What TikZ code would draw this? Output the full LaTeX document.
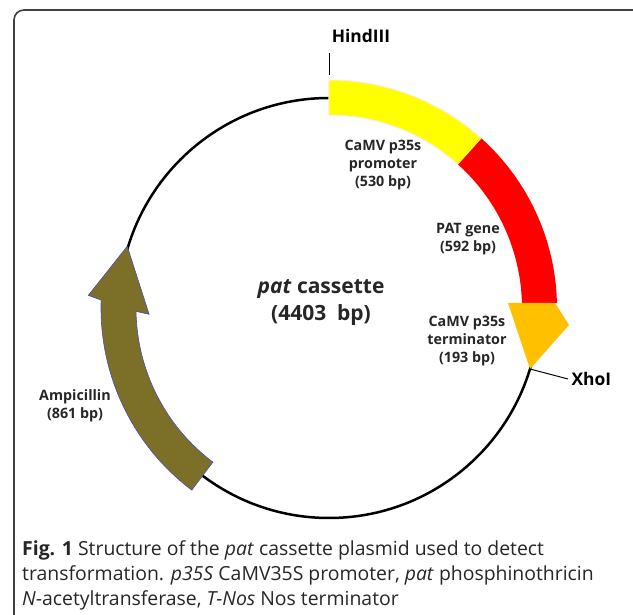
\documentclass[tikz,border=0pt]{standalone}
\usepackage{fontspec}
\setmainfont{Open Sans}
\newfontfamily\labelfont{Open Sans}
\usepackage{tikz}
\definecolor{promyellow}{RGB}{255,255,0}
\definecolor{patred}{RGB}{255,0,0}
\definecolor{termorange}{RGB}{255,192,0}
\definecolor{ampolive}{RGB}{124,112,40}
\def\rin{193pt}
\def\rout{228pt}
\def\promoterband{(90:\rout) arc[start angle=90,end angle=48,radius=\rout] -- (48:\rin) arc[start angle=48,end angle=90,radius=\rin] -- cycle}
\def\patband{(48:\rout) arc[start angle=48,end angle=1.3,radius=\rout] -- (1.4:\rin) arc[start angle=1.4,end angle=48,radius=\rin] -- cycle}
\def\termhead{(179,5) -- (226,5) -- (240,-17) -- (201,-61) -- cycle}
\def\ampband{(233:\rin) -- (233:\rout) arc[start angle=233,end angle=178,radius=\rout] -- (177:241pt) -- (163:211pt) -- (182:180pt) -- (181:\rin) arc[start angle=181,end angle=233,radius=\rin] -- cycle}

\begin{document}
\begin{tikzpicture}[x=1pt,y=1pt,
	feature/.style={font=\labelfont\bfseries\fontsize{14.3}{17.8}\selectfont,align=center,text=black!85},
	site/.style={font=\labelfont\bfseries\fontsize{17.4}{20}\selectfont}]
			\useasboundingbox (-329,-307) rectangle (304,308);
			\draw[line width=1.6pt,black!75,rounded corners=10pt] (304,298) -- (-315,298) -- (-315,-307);
			% backbone
			\draw[line width=2.5pt] (0,0) circle (210pt);
			\begin{scope}
				\fill[promyellow,draw=orange!15,line width=1pt] \promoterband;
				\fill[patred] \patband;
				\fill[termorange] \termhead;
				\fill[ampolive,draw=blue!40!gray,line width=0.6pt] \ampband;
			\end{scope}
			% restriction sites
			\coordinate (hindsite) at (1,233);
			\coordinate (hindtop) at (1,255);
			\coordinate (xhosite) at (201,-61);
			\draw[line width=1pt] (hindsite) -- (hindtop);
			\node[site] (hind) at (32,272) {HindIII};
			\node[site,anchor=west] (xho) at (239,-71) {XhoI};
			\draw[line width=1pt] (xhosite) -- (xho.west);
			% feature labels
			\node[feature] (promoter) at (54,143) {CaMV p35s\\promoter\\(530 bp)};
			\node[feature] (patgene) at (139,69) {PAT gene\\(592 bp)};
			\node[feature] (terminator) at (138,-33) {CaMV p35s\\terminator\\(193 bp)};
			\node[feature] (amp) at (-254,-98) {Ampicillin\\(861 bp)};
			\node[font=\labelfont\bfseries\fontsize{21}{27}\selectfont,align=center,text=black!85] (title) at (-8,5) {\textit{pat} cassette\\(4403~~bp)};
			% caption
			\begin{scope}[every node/.style={anchor=base west,inner sep=0pt,text=black!85,font=\fontsize{19.4}{25}\selectfont}]
				\node (cap1) at (-307,-248) {\textbf{Fig. 1} Structure of the \textit{pat} cassette plasmid used to detect};
				\node (cap2) at (-307,-273) {transformation. \textit{p35S} CaMV35S promoter, \textit{pat} phosphinothricin};
				\node (cap3) at (-307,-298) {\textit{N}-acetyltransferase, \textit{T-Nos} Nos terminator};
			\end{scope}
		\end{tikzpicture}
\end{document}
